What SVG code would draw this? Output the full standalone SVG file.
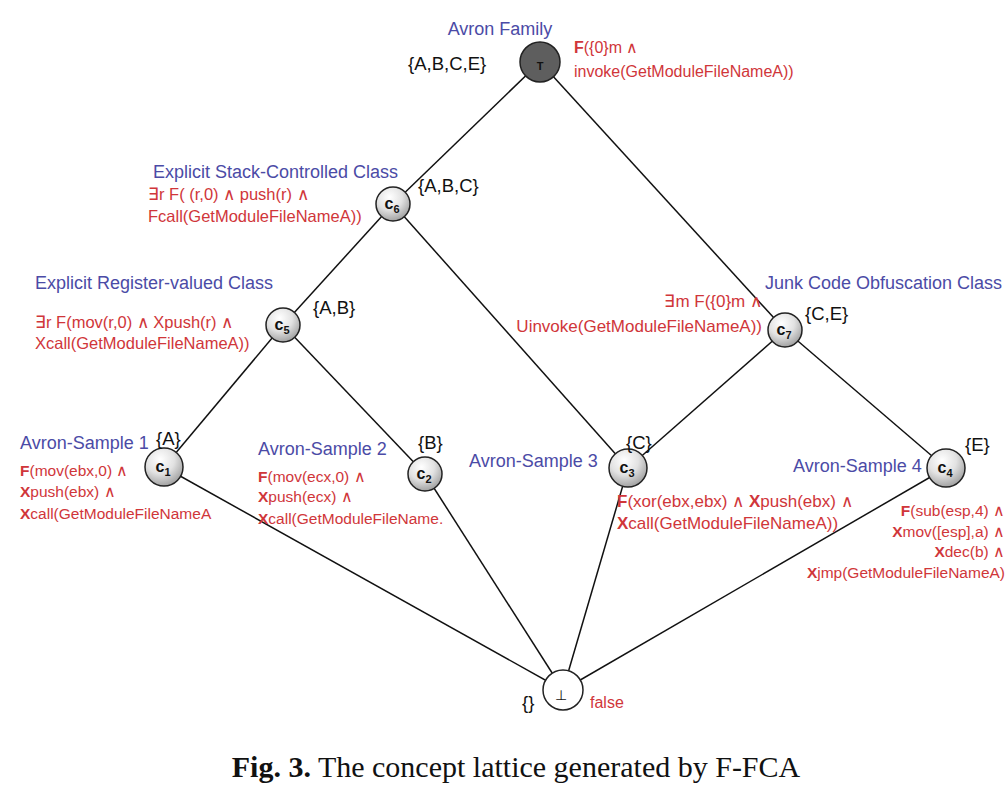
<svg xmlns="http://www.w3.org/2000/svg" width="1007" height="791" viewBox="0 0 1007 791">
<style>
text{font-family:"Liberation Sans",Arial,sans-serif}
.cls{fill:#4b4ba6;font-size:18px}
.f{fill:#d0363a;font-size:16px}
.set{fill:#111;font-size:18.5px}
.b{font-weight:bold}
.lbl{font-size:16px;font-weight:bold;fill:#111;text-anchor:middle}
.sub{font-size:11px}
.node{fill:url(#g);stroke:#222;stroke-width:1.5}
.cap{font-family:"Liberation Serif","Times New Roman",serif;font-size:30px;fill:#111}
#edges line{stroke:#111;stroke-width:1.5}
</style>
<defs>
<radialGradient id="g" cx="0.4" cy="0.3" r="0.75">
<stop offset="0" stop-color="#ffffff"/>
<stop offset="0.5" stop-color="#e2e2e2"/>
<stop offset="1" stop-color="#9a9a9a"/>
</radialGradient>
</defs>
<rect width="1007" height="791" fill="#fff"/>
<g id="edges">
<line x1="540" y1="62" x2="393" y2="204"/>
<line x1="540" y1="62" x2="785" y2="330"/>
<line x1="393" y1="204" x2="283" y2="325"/>
<line x1="393" y1="204" x2="628" y2="468"/>
<line x1="283" y1="325" x2="164" y2="467"/>
<line x1="283" y1="325" x2="425" y2="474"/>
<line x1="785" y1="330" x2="628" y2="468"/>
<line x1="785" y1="330" x2="946" y2="468"/>
<line x1="164" y1="467" x2="563" y2="690"/>
<line x1="425" y1="474" x2="563" y2="690"/>
<line x1="628" y1="468" x2="563" y2="690"/>
<line x1="946" y1="468" x2="563" y2="690"/>
</g>
<g id="top">
<circle cx="540" cy="62" r="20" fill="#5e5e5e" stroke="#222" stroke-width="1.5"/>
<text x="540" y="70" class="lbl" style="font-size:11px">T</text>
<text x="500" y="35" class="cls" text-anchor="middle">Avron Family</text>
<text x="408" y="70" class="set">{A,B,C,E}</text>
<text x="574" y="53" class="f"><tspan class="b">F</tspan>({0}m ∧</text>
<text x="574" y="77" class="f">invoke(GetModuleFileNameA))</text>
</g>
<g id="c6">
<circle cx="393" cy="204" r="17" class="node"/>
<text x="392" y="209" class="lbl">c<tspan class="sub" dy="4">6</tspan></text>
<text x="153" y="178" class="cls">Explicit Stack-Controlled Class</text>
<text x="148" y="200" class="f" style="font-size:16.5px">∃r F( (r,0) ∧  push(r) ∧</text>
<text x="148" y="222" class="f" style="font-size:16.5px">Fcall(GetModuleFileNameA))</text>
<text x="418" y="192" class="set">{A,B,C}</text>
</g>
<g id="c5">
<circle cx="283" cy="325" r="17" class="node"/>
<text x="282" y="330" class="lbl">c<tspan class="sub" dy="4">5</tspan></text>
<text x="35" y="289" class="cls">Explicit Register-valued Class</text>
<text x="35" y="328" class="f" style="font-size:16.5px">∃r F(mov(r,0) ∧  Xpush(r) ∧</text>
<text x="35" y="349" class="f" style="font-size:16.5px">Xcall(GetModuleFileNameA))</text>
<text x="313" y="314" class="set">{A,B}</text>
</g>
<g id="c7">
<circle cx="785" cy="330" r="17" class="node"/>
<text x="784" y="335" class="lbl">c<tspan class="sub" dy="4">7</tspan></text>
<text x="765" y="289" class="cls">Junk Code Obfuscation Class</text>
<text x="762" y="307" class="f" text-anchor="end" style="font-size:17px">∃m F({0}m ∧</text>
<text x="762" y="332" class="f" text-anchor="end" style="font-size:17px">Uinvoke(GetModuleFileNameA))</text>
<text x="805" y="320" class="set">{C,E}</text>
</g>
<g id="c1">
<circle cx="164" cy="467" r="19" class="node"/>
<text x="163" y="472" class="lbl">c<tspan class="sub" dy="4">1</tspan></text>
<text x="20" y="449" class="cls">Avron-Sample 1</text>
<text x="156" y="445" class="set">{A}</text>
<text x="20" y="476" class="f" style="font-size:15.5px"><tspan class="b">F</tspan>(mov(ebx,0) ∧</text>
<text x="20" y="497" class="f" style="font-size:15.5px"><tspan class="b">X</tspan>push(ebx) ∧</text>
<text x="20" y="519" class="f" style="font-size:15.5px"><tspan class="b">X</tspan>call(GetModuleFileNameA</text>
</g>
<g id="c2">
<circle cx="425" cy="474" r="17" class="node"/>
<text x="424" y="479" class="lbl">c<tspan class="sub" dy="4">2</tspan></text>
<text x="258" y="455" class="cls">Avron-Sample 2</text>
<text x="418" y="449" class="set">{B}</text>
<text x="258" y="482" class="f" style="font-size:15.5px"><tspan class="b">F</tspan>(mov(ecx,0) ∧</text>
<text x="258" y="502" class="f" style="font-size:15.5px"><tspan class="b">X</tspan>push(ecx) ∧</text>
<text x="258" y="524" class="f" style="font-size:15.5px"><tspan class="b">X</tspan>call(GetModuleFileName.</text>
</g>
<g id="c3">
<circle cx="628" cy="468" r="19" class="node"/>
<text x="627" y="473" class="lbl">c<tspan class="sub" dy="4">3</tspan></text>
<text x="469" y="467" class="cls">Avron-Sample 3</text>
<text x="626" y="449" class="set">{C}</text>
<text x="617" y="507" class="f" style="font-size:17px"><tspan class="b">F</tspan>(xor(ebx,ebx) ∧  <tspan class="b">X</tspan>push(ebx) ∧</text>
<text x="617" y="529" class="f" style="font-size:17px"><tspan class="b">X</tspan>call(GetModuleFileNameA))</text>
</g>
<g id="c4">
<circle cx="946" cy="468" r="19" class="node"/>
<text x="945" y="473" class="lbl">c<tspan class="sub" dy="4">4</tspan></text>
<text x="793" y="472" class="cls">Avron-Sample 4</text>
<text x="965" y="451" class="set">{E}</text>
<text x="1005" y="516" class="f" text-anchor="end" style="font-size:15.5px"><tspan class="b">F</tspan>(sub(esp,4) ∧</text>
<text x="1005" y="537" class="f" text-anchor="end" style="font-size:15.5px"><tspan class="b">X</tspan>mov([esp],a) ∧</text>
<text x="1005" y="557" class="f" text-anchor="end" style="font-size:15.5px"><tspan class="b">X</tspan>dec(b) ∧</text>
<text x="1005" y="578" class="f" text-anchor="end" style="font-size:15.5px"><tspan class="b">X</tspan>jmp(GetModuleFileNameA)</text>
</g>
<g id="bottom">
<circle cx="563" cy="690" r="20" fill="#fff" stroke="#222" stroke-width="1.5"/>
<text x="561" y="700" style="font-size:14px;fill:#111" text-anchor="middle">⊥</text>
<text x="522" y="709" class="set">{}</text>
<text x="590" y="708" class="f">false</text>
</g>
<text x="516" y="777" class="cap" text-anchor="middle"><tspan font-weight="bold">Fig. 3.</tspan>  The concept lattice generated by F-FCA</text>
</svg>
